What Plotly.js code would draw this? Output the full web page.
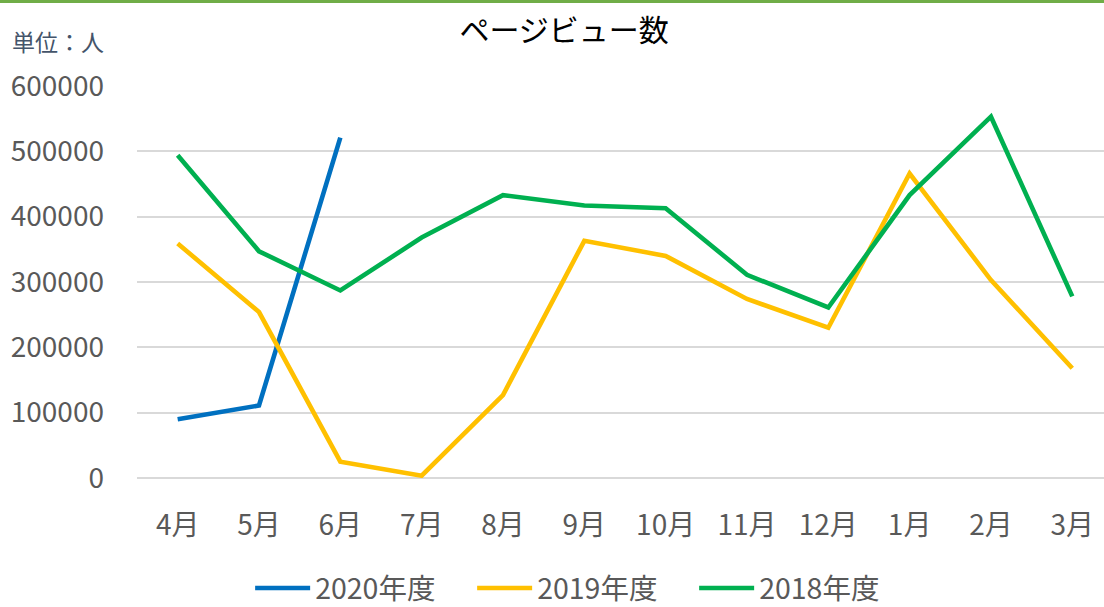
<!DOCTYPE html>
<html>
<head>
<meta charset="utf-8">
<script src="https://cdn.plot.ly/plotly-3.0.1.min.js"></script>
<style>html,body{margin:0;padding:0;background:#fff;}#chart{width:1104px;height:607px;}</style>
</head>
<body>
<div id="chart"></div>
<script>
const months = ["4月","5月","6月","7月","8月","9月","10月","11月","12月","1月","2月","3月"];
const fy2020 = [90000, 111000, 521000];
const fy2019 = [359000, 254000, 25000, 3500, 127000, 363000, 340000, 274000, 230000, 466000, 303000, 168000];
const fy2018 = [494000, 347000, 287000, 368000, 433000, 417000, 413000, 311000, 261000, 433000, 553000, 278000];
const seriesNames = ["2020年度","2019年度","2018年度"];
const seriesColors = ["#0070C0","#FFC000","#00B050"];
const yTicks = [0,100000,200000,300000,400000,500000,600000];

const FONT = '"Noto Sans CJK JP", "Noto Sans", sans-serif';
const allY = [fy2020, fy2019, fy2018];
const traces = allY.map((ys, i) => ({
  type: 'scatter', mode: 'lines',
  x: months.slice(0, ys.length), y: ys,
  name: seriesNames[i],
  line: {color: seriesColors[i], width: 4.6}
}));

const layout = {
  width: 1104, height: 607,
  margin: {l: 137, r: 0, t: 86, b: 129, autoexpand: false},
  paper_bgcolor: '#fff', plot_bgcolor: '#fff',
  font: {family: FONT, color: '#595959', size: 28},
  title: {text: 'ページビュー数', font: {family: FONT, size: 30, color: '#000'}, x: 0.511, xanchor: 'center', y: 0.95, yanchor: 'middle'},
  xaxis: {
    type: 'category', categoryorder: 'array', categoryarray: months,
    range: [-0.5, 11.39], showgrid: false, zeroline: false, showline: false,
    ticks: '', tickfont: {size: 28, color: '#595959'}, ticklabelstandoff: 28, fixedrange: true
  },
  yaxis: {
    range: [0, 600000], tickvals: yTicks, ticktext: yTicks.map(String),
    showgrid: true, gridcolor: '#D9D9D9', gridwidth: 2, zeroline: true, zerolinecolor: '#D9D9D9', zerolinewidth: 2, showline: false,
    ticks: '', tickfont: {size: 28, color: '#595959'}, ticklabelstandoff: 32, fixedrange: true
  },
  showlegend: true,
  legend: {orientation: 'h', x: 0.117, xanchor: 'left', y: -0.282, yanchor: 'middle',
           font: {size: 28.5, color: '#595959'}, itemwidth: 55, entrywidth: 152, traceorder: 'normal'},
  annotations: [{text: '単位：人', xref: 'paper', yref: 'paper', x: -0.131, xanchor: 'left', y: 1.115, yanchor: 'middle',
                 showarrow: false, font: {family: FONT, size: 23, color: '#44546A'}}],
  shapes: [{type: 'rect', xref: 'paper', yref: 'paper', x0: -0.2, x1: 1.05, y0: 1.212, y1: 1.25,
            fillcolor: '#70AD47', line: {width: 0}, layer: 'above'}]
};
Plotly.newPlot('chart', traces, layout, {displayModeBar: false, staticPlot: true});
</script>
</body>
</html>
